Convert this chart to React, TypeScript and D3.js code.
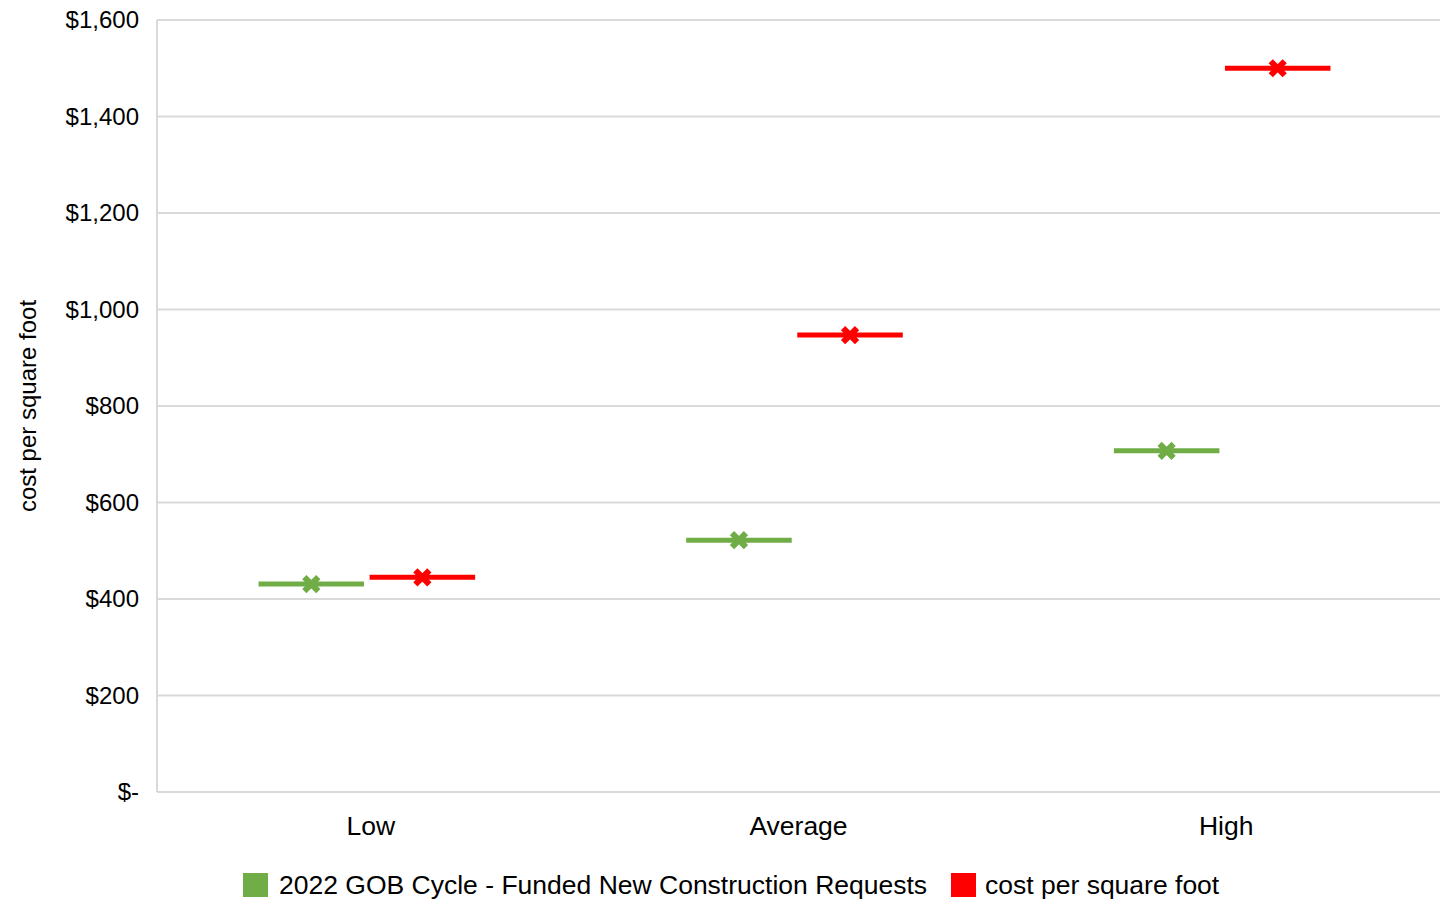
import React from "react";
import * as d3 from "d3";

const categories = ["Low", "Average", "High"];
const seriesNames = ["2022 GOB Cycle - Funded New Construction Requests", "cost per square foot"];
const seriesColors = ["#70ad47", "#ff0000"];
const gobValues = [431, 522, 707];
const costValues = [445, 947, 1500];
const yTicks = [0, 200, 400, 600, 800, 1000, 1200, 1400, 1600];

const W = 1447;
const H = 907;
const margin = { left: 157, right: 7, top: 20, bottom: 115 };

function fmt(v: number) {
  return v === 0 ? "$-" : "$" + d3.format(",")(v);
}

export default function App() {
  const x = d3.scaleBand().domain(categories).range([margin.left, W - margin.right]).padding(0);
  const x1 = d3
    .scaleBand()
    .domain(seriesNames)
    .range([-4, x.bandwidth() - 4])
    .paddingInner(0.05)
    .paddingOuter(0.95);
  const y = d3.scaleLinear().domain([0, 1600]).range([H - margin.bottom, margin.top]);

  const series = [gobValues, costValues];
  const font = "Liberation Sans, Arial, sans-serif";

  return (
    <svg
      width={W}
      height={H}
      style={{ position: "absolute", left: 0, top: 0, fontFamily: font }}
    >
      <rect width={W} height={H} fill="#fff" />
      {yTicks.map((t) => (
        <g key={t}>
          <line x1={margin.left} x2={W - margin.right} y1={y(t)} y2={y(t)} stroke="#d9d9d9" strokeWidth={2} />
          <text x={139} y={y(t)} dy="0.35em" textAnchor="end" fontSize={24} fill="#000">
            {fmt(t)}
          </text>
        </g>
      ))}
      <line x1={margin.left} x2={margin.left} y1={margin.top} y2={y(0)} stroke="#d9d9d9" strokeWidth={2} />
      {categories.map((c) => (
        <text key={c} x={x(c)! + x.bandwidth() / 2} y={835} textAnchor="middle" fontSize={26.5} fill="#000">
          {c}
        </text>
      ))}
      {series.map((vals, si) =>
        categories.map((c, ci) => {
          const x0 = x(c)! + x1(seriesNames[si])!;
          const cx = x0 + x1.bandwidth() / 2;
          const cy = y(vals[ci]);
          const s = 7;
          return (
            <g key={si + "-" + c}>
              <line x1={x0} x2={x0 + x1.bandwidth()} y1={cy} y2={cy} stroke={seriesColors[si]} strokeWidth={5} />
              <path
                d={`M${cx - s},${cy - s}L${cx + s},${cy + s}M${cx - s},${cy + s}L${cx + s},${cy - s}`}
                stroke={seriesColors[si]}
                strokeWidth={6}
              />
            </g>
          );
        })
      )}
      <text
        transform={`translate(36,${(margin.top + y(0)) / 2}) rotate(-90)`}
        textAnchor="middle"
        fontSize={24}
        fill="#000"
      >
        cost per square foot
      </text>
      <g>
        <rect x={243} y={873} width={25} height={24} fill={seriesColors[0]} />
        <text x={279} y={894} fontSize={26.5} fill="#000">
          {seriesNames[0]}
        </text>
        <rect x={951} y={873} width={25} height={24} fill={seriesColors[1]} />
        <text x={985} y={894} fontSize={26.5} fill="#000">
          {seriesNames[1]}
        </text>
      </g>
    </svg>
  );
}
